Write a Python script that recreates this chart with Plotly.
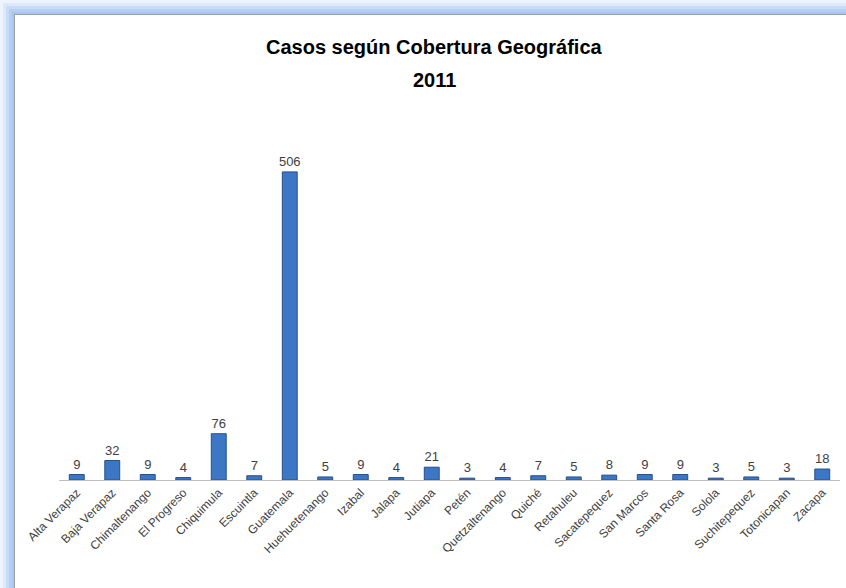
import plotly.graph_objects as go

departamentos = [
    "Alta Verapaz", "Baja Verapaz", "Chimaltenango", "El Progreso", "Chiquimula",
    "Escuintla", "Guatemala", "Huehuetenango", "Izabal", "Jalapa", "Jutiapa",
    "Petén", "Quetzaltenango", "Quiché", "Retahuleu", "Sacatepequez",
    "San Marcos", "Santa Rosa", "Solola", "Suchitepequez", "Totonicapan", "Zacapa",
]
casos = [9, 32, 9, 4, 76, 7, 506, 5, 9, 4, 21, 3, 4, 7, 5, 8, 9, 9, 3, 5, 3, 18]
titulo = ["Casos según Cobertura Geográfica", "2011"]

W, H = 846, 588
L, R, T, B = 59, 6, 139, 108
FONT = "Liberation Sans Narrow, Arial Narrow, sans-serif"


def px(x, y):
    # pixels de la page -> coordonnées paper
    pw = W - L - R
    ph = H - T - B
    return (x - L) / pw, (H - B - y) / ph


def rect(x0, y0, x1, y1, color):
    a, b = px(x0, y1)
    c, d = px(x1, y0)
    return dict(type="rect", xref="paper", yref="paper", x0=a, y0=b, x1=c, y1=d,
                fillcolor=color, line=dict(width=0), layer="below")


# cadre bleu dégradé façon Office
shapes = [
    rect(0, 0, W, H, "#eef4fd"),
    rect(3, 3, W, H, "#dde9fa"),
    rect(6, 6, W, H, "#c9dcf7"),
    rect(9, 9, W, H, "#b4cff3"),
    rect(12, 12, W, H, "#a6c5ef"),
    rect(14, 14, W, H, "#a0a0a0"),
    rect(15, 15, W, H, "#ffffff"),
]

fig = go.Figure()
fig.add_trace(go.Bar(
    x=departamentos,
    y=casos,
    text=casos,
    textposition="outside",
    constraintext="none",
    textfont=dict(size=13, color="#404040", family=FONT),
    cliponaxis=False,
    marker=dict(color="#3c77c6", line=dict(color="#24508e", width=1)),
))

# titre sur deux lignes, plus espacées que le titre natif
for ligne, ypix in zip(titulo, [47, 80]):
    xa, ya = px(434, ypix)
    fig.add_annotation(
        x=xa, y=ya, xref="paper", yref="paper",
        text=f"<b>{ligne}</b>", showarrow=False,
        xanchor="center", yanchor="middle",
        font=dict(size=20, color="black", family=FONT),
    )

fig.update_layout(
    width=W, height=H,
    margin=dict(l=L, r=R, t=T, b=B),
    paper_bgcolor="white",
    plot_bgcolor="rgba(0,0,0,0)",
    bargap=0.58,
    showlegend=False,
    shapes=shapes,
    xaxis=dict(
        tickangle=-45,
        tickfont=dict(size=12, color="#404040", family=FONT),
        showline=True, linecolor="#bfbfbf", linewidth=1,
        showgrid=False, ticks="",
    ),
    yaxis=dict(range=[0, 560], visible=False, showgrid=False),
)

fig.write_html("out.html", config={"displayModeBar": False},
               post_script="document.body.style.margin='0';")
